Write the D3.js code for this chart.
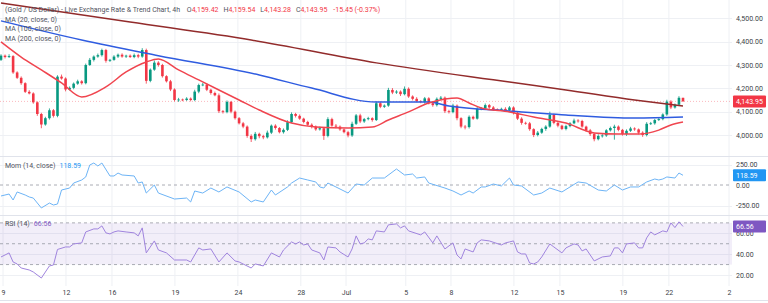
<!DOCTYPE html>
<html>
<head>
<meta charset="utf-8">
<script src="https://cdn.jsdelivr.net/npm/d3@7"></script>
<style>
  body { margin: 0; background: #fff; }
  svg { display: block; font-family: Roboto, "Noto Sans", sans-serif; }
</style>
</head>
<body>
<svg id="chart" width="768" height="303"></svg>
<script>
// ---- data (4h bars, oldest first) ----
var firstOpen = 4322;
var closes = [
  4340, 4334, 4338, 4268, 4245, 4222, 4185, 4178, 4140, 4090,
  4045, 4072, 4106, 4082, 4250, 4242, 4195, 4202, 4220, 4230,
  4222, 4300, 4322, 4336, 4342, 4364, 4318, 4322, 4336, 4344,
  4336, 4340, 4334, 4342, 4336, 4364, 4232, 4280, 4310, 4300,
  4252, 4230, 4195, 4150, 4152, 4150, 4156, 4150, 4186, 4214,
  4216, 4194, 4180, 4170, 4102, 4098, 4142, 4100, 4072, 4050,
  4036, 3996, 3982, 4005, 3995, 3990, 4010, 4040, 4030, 4012,
  4022, 4055, 4090, 4082, 4070, 4056, 4044, 4036, 4024, 4029,
  3996, 4068, 4040, 4036, 4024, 4012, 3998, 4048, 4084, 4058,
  4068, 4072, 4064, 4136, 4121, 4126, 4193, 4182, 4186, 4175,
  4198, 4165, 4155, 4145, 4142, 4157, 4136, 4128, 4155, 4160,
  4102, 4098, 4126, 4072, 4036, 4034, 4078, 4070, 4112, 4114,
  4128, 4118, 4110, 4108, 4112, 4106, 4118, 4095, 4070, 4052,
  4050, 4025, 4000, 4010, 4026, 4036, 4086, 4052, 4040, 4026,
  4038, 4050, 4062, 4060, 4036, 4020, 4004, 3982, 3996, 3998,
  4020, 4030, 4036, 4022, 4004, 4018, 4028, 4024, 4010, 4000,
  4048, 4050, 4064, 4068, 4088, 4143, 4118, 4130, 4159.42, 4143.95
];
var wickHi = [
  6, 5, 8, 4, 5, 6, 4, 7, 5, 4,   5, 6, 8, 5, 6, 9, 5, 6, 5, 7,
  5, 6, 8, 5, 7, 6, 5, 4, 6, 5,   6, 4, 5, 7, 6, 8, 6, 5, 9, 6,
  5, 4, 6, 5, 7, 4, 6, 5, 8, 6,   7, 5, 4, 6, 8, 5, 6, 4, 5, 5,
  6, 5, 7, 8, 5, 6, 9, 5, 6, 4,   6, 8, 7, 5, 6, 4, 5, 6, 5, 7,
  5, 8, 6, 7, 5, 4, 6, 9, 6, 7,   5, 6, 4, 8, 7, 5, 9, 8, 6, 5,
  10, 6, 5, 7, 4, 6, 5, 8, 6, 7,  5, 6, 8, 5, 4, 7, 6, 5, 9, 6,
  7, 5, 6, 4, 5, 7, 6, 5, 4, 6,   5, 6, 4, 7, 5, 6, 14, 5, 6, 4,
  6, 5, 8, 6, 5, 4, 6, 5, 7, 6,   5, 6, 8, 5, 4, 6, 7, 5, 4, 6,
  7, 6, 5, 6, 5, 8, 6, 5, 7, 0.12
];
var wickLo = [
  5, 6, 4, 6, 5, 7, 5, 4, 6, 8,   16, 5, 6, 7, 6, 5, 8, 4, 6, 5,
  6, 5, 4, 7, 5, 6, 8, 5, 4, 6,   5, 6, 4, 5, 7, 5, 12, 6, 5, 7,
  6, 5, 7, 6, 8, 5, 4, 6, 5, 7,   5, 6, 7, 4, 8, 6, 5, 7, 6, 5,
  7, 8, 12, 6, 9, 8, 5, 6, 7, 5,  6, 5, 4, 7, 5, 6, 5, 8, 6, 5,
  17, 6, 5, 7, 6, 5, 8, 6, 5, 7,  6, 5, 7, 4, 6, 5, 5, 7, 6, 8,
  5, 6, 7, 5, 6, 8, 5, 7, 6, 5,   8, 6, 5, 9, 7, 10, 6, 5, 4, 6,
  5, 6, 7, 5, 6, 4, 5, 7, 6, 8,   6, 7, 9, 6, 5, 8, 5, 6, 7, 5,
  6, 5, 4, 7, 5, 6, 8, 9, 5, 7,   6, 5, 50, 6, 7, 8, 5, 6, 7, 8,
  6, 5, 6, 4, 5, 6, 7, 5, 6, 0.67
];

// moving averages: [bar, price]
var ma20 = [[0, 4399], [5, 4334], [10, 4279], [15, 4223], [20, 4163], [26, 4206], [31, 4270],
  [36, 4313], [39, 4326], [44, 4279], [49, 4236], [54, 4193], [59, 4150], [64, 4107],
  [72, 4051], [78, 4034], [86, 4030], [92, 4034], [96, 4064], [101, 4099], [106, 4137],
  [110, 4154], [113, 4159], [116, 4137], [119, 4116], [126, 4099], [132, 4077], [140, 4051],
  [147, 4009], [153, 4004], [158, 4004], [163, 4021], [166, 4043], [169, 4056]];
var ma100 = [[0, 4489], [20, 4407], [39, 4340], [64, 4257], [77, 4201], [93, 4141], [106, 4141],
  [111, 4124], [126, 4103], [140, 4086], [157, 4073], [169, 4077]];
var ma200 = [[0, 4566], [32, 4484], [62, 4407], [93, 4309], [126, 4227], [140, 4193],
  [157, 4150], [169, 4124]];

// momentum (14): [bar, value]
var mom = [[0, -134], [2, -110], [3, -183], [4, -85], [6, -122], [7, -146], [8, -159], [10, -280],
  [12, -220], [13, -244], [14, -232], [15, -61], [17, -37], [18, 24], [20, 61], [21, 98],
  [22, 244], [23, 268], [24, 232], [25, 268], [27, 110], [28, 110], [29, 146], [30, 122],
  [33, 110], [34, 24], [35, 37], [36, -98], [38, 0], [39, -98], [43, -171], [46, -159],
  [47, -207], [48, -73], [50, -98], [52, -37], [54, -85], [56, -24], [59, -85], [62, -207],
  [63, -183], [65, -207], [67, -61], [68, -122], [71, -24], [72, 24], [74, 85], [76, 61],
  [78, 37], [79, -24], [80, -37], [81, 24], [83, -24], [86, -98], [88, 12], [90, 0],
  [92, 85], [95, 85], [98, 195], [100, 122], [102, 134], [103, 85], [105, 98], [106, 24],
  [110, -37], [112, -73], [114, -122], [116, -73], [117, -98], [119, -24], [120, -24],
  [122, 12], [124, -12], [126, 85], [127, 0], [129, -12], [132, -122], [134, -98], [136, -37],
  [139, -85], [141, -24], [143, 37], [145, 24], [148, -61], [150, -73], [152, 0], [154, -61],
  [156, -24], [158, -24], [160, 37], [162, 73], [163, 61], [164, 73], [165, 98], [167, 85],
  [168, 146], [169, 118.59]];

// RSI (14): [bar, value]
var rsi = [[0, 37.3], [1, 39.2], [2, 41.2], [3, 32.5], [4, 30.6], [5, 26.7], [7, 24.8], [8, 22.9],
  [10, 17.1], [12, 28.7], [13, 29.6], [14, 44.5], [16, 46.9], [17, 46.9], [18, 49.8], [20, 50.8],
  [21, 61.3], [23, 64.2], [24, 64.2], [25, 67.1], [26, 60.4], [27, 59.4], [28, 61.3], [29, 62.3],
  [31, 61.3], [33, 60.4], [34, 57.5], [35, 65.2], [36, 41.2], [38, 52.7], [39, 44], [41, 41.2],
  [43, 34.4], [46, 34.4], [47, 32.5], [49, 46], [50, 44], [52, 45], [54, 32.5], [56, 41.2],
  [58, 33.5], [59, 32.5], [62, 26.7], [63, 30.6], [64, 29.6], [65, 28.7], [67, 41.2], [69, 37.3],
  [70, 44], [72, 51.7], [73, 49.8], [74, 51.7], [75, 48.8], [76, 49.8], [77, 44], [79, 41.2],
  [80, 34.4], [81, 46.9], [83, 46], [84, 42.1], [86, 37.3], [87, 45], [88, 57.5], [89, 49.8],
  [90, 50.8], [91, 54.6], [92, 53.7], [93, 62.3], [95, 61.3], [96, 68.1], [98, 69], [99, 65.2],
  [100, 67.1], [101, 62.3], [104, 58.5], [105, 61.3], [107, 50.8], [108, 57.5], [110, 45],
  [112, 50.8], [113, 39.2], [114, 35.4], [115, 45], [117, 42.1], [118, 50.8], [119, 53.7],
  [121, 52.7], [124, 48.8], [125, 50.8], [126, 51.7], [127, 52.7], [128, 42.1], [129, 40.2],
  [130, 40.2], [131, 31.5], [132, 30.6], [133, 32.5], [134, 37.3], [136, 49.8], [137, 46.9],
  [139, 41.2], [140, 46], [142, 49.8], [143, 48.8], [144, 43.1], [145, 45], [147, 33.5],
  [149, 37.3], [151, 38.3], [152, 46], [153, 46], [154, 41.2], [155, 49.8], [157, 50.8],
  [158, 46], [159, 46], [160, 55.6], [161, 61.3], [162, 58.5], [164, 62.3], [165, 61.3],
  [166, 70], [167, 65.5], [168, 71], [169, 66.56]];

// axis labels
var timeTicks = [[0.5, '9'], [16.1, '12'], [27.5, '16'], [43.1, '19'], [58.7, '24'], [74.3, '28'],
  [85.5, 'Jul'], [100.3, '5'], [111.5, '8'], [127.1, '12'], [138.5, '15'], [154.1, '19'],
  [165.5, '22'], [180.4, '2']];
var priceTicks = [4000, 4100, 4200, 4300, 4400, 4500];
var momTicks = [-250, 0, 250];
var rsiTicks = [20, 40, 60];
var rsiLevels = [30, 50, 70];

// ---- drawing ----
var UP = '#089981', DOWN = '#f23645';
var plotW = 732;
var svg = d3.select('#chart');

var x = d3.scaleLinear().domain([0, closes.length - 1]).range([1, 683]);
var yP = d3.scaleLinear().domain([4000, 4500]).range([135, 18.3]);
var yM = d3.scaleLinear().domain([-250, 250]).range([205.5, 164.5]);
var yR = d3.scaleLinear().domain([20, 60]).range([275, 233.3]);

var fmt2 = d3.format(',.2f');
function fmtSigned(v) { return fmt2(v).replace('\u2212', '-'); }

var defs = svg.append('defs');
defs.append('clipPath').attr('id', 'clipMain').append('rect')
  .attr('x', 0).attr('y', 0).attr('width', plotW).attr('height', 156);

// vertical grid
svg.append('g').selectAll('line').data(timeTicks).enter().append('line')
  .attr('x1', function(d) { return x(d[0]); }).attr('x2', function(d) { return x(d[0]); })
  .attr('y1', 0).attr('y2', 286)
  .attr('stroke', '#eef0f4').attr('stroke-width', 1);

// horizontal grid
function hgrid(vals, scale) {
  svg.append('g').selectAll('line').data(vals).enter().append('line')
    .attr('x1', 0).attr('x2', plotW)
    .attr('y1', function(d) { return Math.round(scale(d)) + 0.5; })
    .attr('y2', function(d) { return Math.round(scale(d)) + 0.5; })
    .attr('stroke', '#eef0f4').attr('stroke-width', 1);
}
hgrid(priceTicks, yP);
hgrid([-250, 250], yM);
hgrid(rsiTicks, yR);

// panel separators
[156.5, 215.5, 300.5].forEach(function(yy) {
  svg.append('line').attr('x1', 0).attr('x2', 768).attr('y1', yy).attr('y2', yy)
    .attr('stroke', '#e0e3eb').attr('stroke-width', 1);
});

// ---- main panel ----
var candles = closes.map(function(c, i) {
  var o = i ? closes[i - 1] : firstOpen;
  return { i: i, o: o, c: c, h: Math.max(o, c) + wickHi[i], l: Math.min(o, c) - wickLo[i] };
});

var main = svg.append('g').attr('clip-path', 'url(#clipMain)');

// last price line
main.append('line')
  .attr('x1', 0).attr('x2', plotW)
  .attr('y1', yP(closes[closes.length - 1])).attr('y2', yP(closes[closes.length - 1]))
  .attr('stroke', DOWN).attr('stroke-opacity', 0.35).attr('stroke-dasharray', '1,2');

var cg = main.append('g').selectAll('g').data(candles).enter().append('g');
cg.append('line')
  .attr('x1', function(d) { return x(d.i); }).attr('x2', function(d) { return x(d.i); })
  .attr('y1', function(d) { return yP(d.h); }).attr('y2', function(d) { return yP(d.l); })
  .attr('stroke', function(d) { return d.c >= d.o ? UP : DOWN; }).attr('stroke-width', 0.8);
cg.append('rect')
  .attr('x', function(d) { return x(d.i) - 1.3; })
  .attr('width', 2.6)
  .attr('y', function(d) { return yP(Math.max(d.o, d.c)); })
  .attr('height', function(d) { return Math.max(0.8, Math.abs(yP(d.o) - yP(d.c))); })
  .attr('fill', function(d) { return d.c >= d.o ? UP : DOWN; });

var maLine = d3.line()
  .x(function(d) { return x(d[0]); })
  .y(function(d) { return yP(d[1]); })
  .curve(d3.curveMonotoneX);
[[ma200, '#922b2b'], [ma100, '#2f5ce0'], [ma20, '#f0454f']].forEach(function(m) {
  main.append('path').attr('d', maLine(m[0]))
    .attr('fill', 'none').attr('stroke', m[1]).attr('stroke-width', 1.5);
});

// ---- momentum panel ----
svg.append('line').attr('x1', 0).attr('x2', plotW)
  .attr('y1', yM(0)).attr('y2', yM(0))
  .attr('stroke', '#9598a1').attr('stroke-dasharray', '3,3').attr('stroke-width', 0.8);
svg.append('path')
  .attr('d', d3.line().x(function(d) { return x(d[0]); }).y(function(d) { return yM(d[1]); })(mom))
  .attr('fill', 'none').attr('stroke', '#6db4f6').attr('stroke-width', 1);

// ---- RSI panel ----
svg.append('rect').attr('x', 0).attr('width', plotW)
  .attr('y', yR(70)).attr('height', yR(30) - yR(70))
  .attr('fill', '#7e57c2').attr('fill-opacity', 0.1);
svg.append('g').selectAll('line').data(rsiLevels).enter().append('line')
  .attr('x1', 0).attr('x2', plotW)
  .attr('y1', function(d) { return yR(d); }).attr('y2', function(d) { return yR(d); })
  .attr('stroke', '#9598a1').attr('stroke-dasharray', '3,3').attr('stroke-width', 0.8);
svg.append('path')
  .attr('d', d3.line().x(function(d) { return x(d[0]); }).y(function(d) { return yR(d[1]); })(rsi))
  .attr('fill', 'none').attr('stroke', '#a084de').attr('stroke-width', 1);

// ---- axes ----
function rightAxis(scale, vals, format) {
  var g = svg.append('g').attr('transform', 'translate(734,0)')
    .call(d3.axisRight(scale).tickValues(vals).tickSize(0).tickPadding(2).tickFormat(format));
  g.select('.domain').remove();
  g.selectAll('text').attr('fill', '#3c3f48').style('font-size', '7px')
    .style('font-family', 'Roboto, sans-serif');
}
rightAxis(yP, priceTicks, fmt2);
rightAxis(yM, momTicks, fmtSigned);
rightAxis(yR, rsiTicks, fmt2);

var xa = svg.append('g').attr('transform', 'translate(0,287)')
  .call(d3.axisBottom(x).tickValues(timeTicks.map(function(d) { return d[0]; }))
    .tickSize(0).tickPadding(3)
    .tickFormat(function(v) { return timeTicks.find(function(d) { return d[0] === v; })[1]; }));
xa.select('.domain').remove();
xa.selectAll('text').attr('fill', '#3c3f48').style('font-size', '7px')
  .style('font-family', 'Roboto, sans-serif');

// value tags on the right
function tag(yy, color, label) {
  svg.append('rect').attr('x', 733).attr('y', yy - 6).attr('width', 33).attr('height', 12)
    .attr('rx', 1).attr('fill', color);
  svg.append('text').attr('x', 736).attr('y', yy + 2.5).text(label)
    .attr('fill', '#fff').style('font-size', '7px');
}
tag(yP(closes[closes.length - 1]), DOWN, fmt2(closes[closes.length - 1]));
tag(yM(mom[mom.length - 1][1]), '#2196f3', fmt2(mom[mom.length - 1][1]));
tag(yR(rsi[rsi.length - 1][1]), '#7e57c2', fmt2(rsi[rsi.length - 1][1]));

// ---- legends ----
var grey = '#50535e';
var title = svg.append('text').attr('x', 5).attr('y', 11.8).style('font-size', '7px').attr('fill', grey);
title.append('tspan').text('(Gold / US Dollar) - Live Exchange Rate & Trend Chart, 4h ');
[['O', '4,159.42'], ['H', '4,159.54'], ['L', '4,143.28'], ['C', '4,143.95']].forEach(function(p) {
  title.append('tspan').attr('dx', 5).text(p[0]);
  title.append('tspan').attr('fill', DOWN).text(p[1]);
});
title.append('tspan').attr('dx', 6).attr('fill', DOWN).text('-15.45 (-0.37%)');

['MA (20, close, 0)', 'MA (100, close, 0)', 'MA (200, close, 0)'].forEach(function(t, i) {
  svg.append('text').attr('x', 5).attr('y', 21.8 + i * 9.4).text(t)
    .attr('fill', grey).style('font-size', '7px');
});

var ml = svg.append('text').attr('x', 5).attr('y', 167.8).style('font-size', '7px').attr('fill', grey);
ml.append('tspan').text('Mom (14, close)');
ml.append('tspan').attr('dx', 4).attr('fill', '#2196f3').text('118.59');

var rl = svg.append('text').attr('x', 5).attr('y', 226).style('font-size', '7px').attr('fill', grey);
rl.append('tspan').text('RSI (14)');
rl.append('tspan').attr('dx', 4).attr('fill', '#7e57c2').text('66.56');
</script>
</body>
</html>
